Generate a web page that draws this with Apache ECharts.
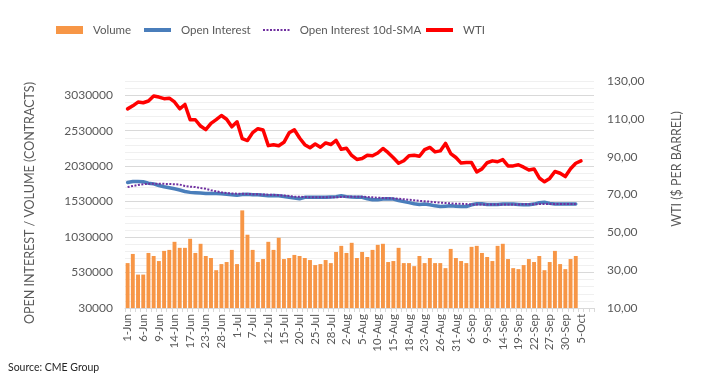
<!DOCTYPE html>
<html>
<head>
<meta charset="utf-8">
<script src="https://cdn.jsdelivr.net/npm/echarts@6/dist/echarts.min.js"></script>
<style>
html,body{margin:0;padding:0;background:#fff;}
#chart{width:702px;height:390px;}
</style>
</head>
<body>
<div id="chart"></div>
<script>
// ---------- data ----------
const categories = [
 '1-Jun','2-Jun','3-Jun','6-Jun','7-Jun','8-Jun','9-Jun','10-Jun','13-Jun','14-Jun','15-Jun','16-Jun','17-Jun',
 '21-Jun','22-Jun','23-Jun','24-Jun','27-Jun','28-Jun','29-Jun','30-Jun',
 '1-Jul','5-Jul','6-Jul','7-Jul','8-Jul','11-Jul','12-Jul','13-Jul','14-Jul','15-Jul','18-Jul','19-Jul','20-Jul',
 '21-Jul','22-Jul','25-Jul','26-Jul','27-Jul','28-Jul','29-Jul',
 '1-Aug','2-Aug','3-Aug','4-Aug','5-Aug','8-Aug','9-Aug','10-Aug','11-Aug','12-Aug','15-Aug','16-Aug','17-Aug',
 '18-Aug','19-Aug','22-Aug','23-Aug','24-Aug','25-Aug','26-Aug','29-Aug','30-Aug','31-Aug',
 '1-Sep','2-Sep','6-Sep','7-Sep','8-Sep','9-Sep','12-Sep','13-Sep','14-Sep','15-Sep','16-Sep','19-Sep','20-Sep',
 '21-Sep','22-Sep','23-Sep','26-Sep','27-Sep','28-Sep','29-Sep','30-Sep',
 '3-Oct','4-Oct','5-Oct','6-Oct','7-Oct'
];

const volume = [
 663000,792000,501000,501000,806000,763000,692000,835000,849000,963000,878000,878000,1006000,806000,935000,
 763000,735000,563000,649000,678000,849000,649000,1406000,1063000,849000,678000,720000,963000,849000,
 1020000,720000,735000,778000,763000,735000,706000,635000,649000,706000,663000,820000,906000,806000,949000,
 735000,820000,749000,849000,920000,935000,678000,692000,878000,663000,663000,620000,763000,663000,735000,
 663000,663000,592000,863000,735000,692000,663000,892000,906000,806000,749000,692000,906000,935000,720000,
 592000,578000,635000,720000,678000,763000,563000,678000,835000,649000,578000,720000,763000
];

const openInterest = [
 1800000,1813000,1813000,1810000,1790000,1780000,1757000,1740000,1725000,1710000,
 1693000,1673000,1660000,1655000,1650000,1645000,1645000,1645000,1640000,1635000,
 1627000,1620000,1630000,1635000,1627000,1627000,1620000,1612000,1615000,1612000,
 1603000,1590000,1580000,1570000,1590000,1590000,1590000,1590000,1590000,1595000,
 1600000,1612000,1600000,1595000,1592000,1590000,1570000,1556000,1556000,1565000,
 1570000,1565000,1545000,1530000,1515000,1500000,1490000,1495000,1485000,1470000,
 1460000,1465000,1470000,1465000,1460000,1460000,1485000,1500000,1500000,1490000,
 1490000,1490000,1495000,1495000,1495000,1490000,1485000,1485000,1495000,1515000,
 1520000,1505000,1495000,1495000,1495000,1495000,1495000
];

const openInterestSMA = [
 1735000,1750000,1765000,1775000,1780000,1780000,1780000,1780000,1778000,1775000,
 1770000,1750000,1740000,1735000,1720000,1710000,1690000,1675000,1660000,1650000,
 1645000,1642000,1640000,1638000,1635000,1632000,1630000,1628000,1625000,1620000,
 1615000,1610000,1600000,1598000,1595000,1592000,1590000,1590000,1590000,1590000,
 1590000,1595000,1600000,1600000,1600000,1598000,1595000,1590000,1585000,1580000,
 1578000,1575000,1570000,1563000,1556000,1548000,1540000,1535000,1530000,1522000,
 1515000,1510000,1505000,1500000,1500000,1495000,1490000,1490000,1490000,1490000,
 1490000,1490000,1490000,1490000,1490000,1490000,1492000,1492000,1492000,1495000,
 1495000,1497000,1497000,1497000,1497000,1495000,1495000
];

const wti = [
 115.26,116.87,118.87,118.50,119.41,122.11,121.51,120.67,120.93,118.93,115.31,117.59,109.56,
 109.52,106.19,104.27,107.62,109.57,111.76,109.78,105.76,
 108.43,99.50,98.53,102.73,104.79,104.09,95.84,96.30,95.78,97.59,102.60,104.22,99.88,
 96.35,94.70,96.70,94.98,97.26,96.42,98.62,
 93.89,94.42,90.66,88.54,89.01,90.76,90.50,91.93,94.34,92.09,89.41,86.53,87.85,
 90.50,90.77,90.23,93.74,94.89,92.52,93.06,97.01,91.64,89.55,
 86.61,86.87,86.88,81.94,83.54,86.79,87.78,87.31,88.48,85.10,85.11,85.73,84.45,
 82.94,83.49,78.74,76.71,78.50,82.15,81.23,79.49,
 83.63,86.52,87.76
];

const leftAxisMin = 30000, leftAxisMax = 3230000, leftMajor = 500000, leftMinor = 100000;
const rightAxisMin = 10, rightAxisMax = 130, rightInterval = 20;

// ---------- chart ----------
const FONT = 'Lato, "Liberation Sans", sans-serif';
const TXT = '#595959';
const chart = echarts.init(document.getElementById('chart'), null, {renderer: 'canvas'});

const SOLID_ICON = 'path://M0 0H27V4H0Z';
const DOT_ICON = 'path://M0 0h2v2h-2z M3.5 0h2v2h-2z M7 0h2v2h-2z M10.5 0h2v2h-2z M14 0h2v2h-2z M17.5 0h2v2h-2z M21 0h2v2h-2z M24.5 0h2v2h-2z';

function legendAt(left, name, icon, h) {
  return {
    top: 24, left: left, padding: 0,
    itemWidth: 27, itemHeight: h, itemGap: 16,
    textStyle: {fontFamily: FONT, fontSize: 11.5, color: TXT, padding: [0, 0, 0, 5]},
    data: [{name: name, icon: icon}]
  };
}

const option = {
  animation: false,
  backgroundColor: '#ffffff',
  textStyle: {fontFamily: FONT},
  legend: [
    legendAt(56, 'Volume', 'rect', 8),
    legendAt(144, 'Open Interest', SOLID_ICON, 4),
    legendAt(263, 'Open Interest 10d-SMA', DOT_ICON, 2),
    legendAt(426, 'WTI', SOLID_ICON, 4)
  ],
  grid: {left: 125, right: 108, top: 81, bottom: 82, containLabel: false},
  xAxis: {
    type: 'category',
    data: categories,
    boundaryGap: true,
    axisLine: {show: true, lineStyle: {color: '#D9D9D9', width: 1}},
    axisTick: {show: true, interval: 0, length: 4, lineStyle: {color: '#D9D9D9'}},
    axisLabel: {interval: 2, rotate: 90, fontFamily: FONT, fontSize: 11.5, color: TXT, margin: 6}
  },
  yAxis: [
    {
      type: 'value',
      min: leftAxisMin, max: leftAxisMax, interval: leftMinor,
      axisLine: {show: false}, axisTick: {show: false},
      axisLabel: {
        fontFamily: FONT, fontSize: 12, color: TXT, margin: 12,
        formatter: function (v) { return ((v - leftAxisMin) % leftMajor === 0) ? String(v) : ''; }
      },
      splitLine: {show: true, lineStyle: {color: ['#D9D9D9', '#F0F0F0', '#F0F0F0', '#F0F0F0', '#F0F0F0'], width: 1}}
    },
    {
      type: 'value',
      position: 'right',
      min: rightAxisMin, max: rightAxisMax, interval: rightInterval,
      axisLine: {show: false}, axisTick: {show: false},
      splitLine: {show: false},
      axisLabel: {
        fontFamily: FONT, fontSize: 12, color: TXT, margin: 13,
        formatter: function (v) { return v.toFixed(2).replace('.', ','); }
      }
    }
  ],
  series: [
    {
      name: 'Volume', type: 'bar', yAxisIndex: 0, data: volume,
      barCategoryGap: '25%',
      itemStyle: {color: '#F79646'}
    },
    {
      name: 'Open Interest', type: 'line', yAxisIndex: 0, data: openInterest,
      symbol: 'none', smooth: false,
      itemStyle: {color: '#4A7EBB'},
      lineStyle: {color: '#4A7EBB', width: 3.5, join: 'round', cap: 'round'}
    },
    {
      name: 'Open Interest 10d-SMA', type: 'line', yAxisIndex: 0, data: openInterestSMA,
      symbol: 'none', smooth: false,
      itemStyle: {color: '#7030A0'},
      lineStyle: {color: '#7030A0', width: 2, type: [2, 1.5]}
    },
    {
      name: 'WTI', type: 'line', yAxisIndex: 1, data: wti,
      symbol: 'none', smooth: false,
      itemStyle: {color: '#FF0000'},
      lineStyle: {color: '#FF0000', width: 3.5, join: 'round', cap: 'round'}
    }
  ],
  graphic: [
    {
      type: 'text', x: 30, y: 203, rotation: Math.PI / 2,
      style: {text: 'OPEN INTEREST / VOLUME (CONTRACTS)', fill: TXT, font: '12.5px ' + FONT,
              textAlign: 'center', textVerticalAlign: 'middle'}
    },
    {
      type: 'text', x: 677, y: 169, rotation: Math.PI / 2,
      style: {text: 'WTI ($ PER BARREL)', fill: TXT, font: '12.5px ' + FONT,
              textAlign: 'center', textVerticalAlign: 'middle'}
    },
    {
      type: 'text', x: 8, y: 368,
      style: {text: 'Source: CME Group', fill: '#262626', font: '10.5px ' + FONT,
              textAlign: 'left', textVerticalAlign: 'middle'}
    }
  ]
};
chart.setOption(option);
</script>
</body>
</html>
